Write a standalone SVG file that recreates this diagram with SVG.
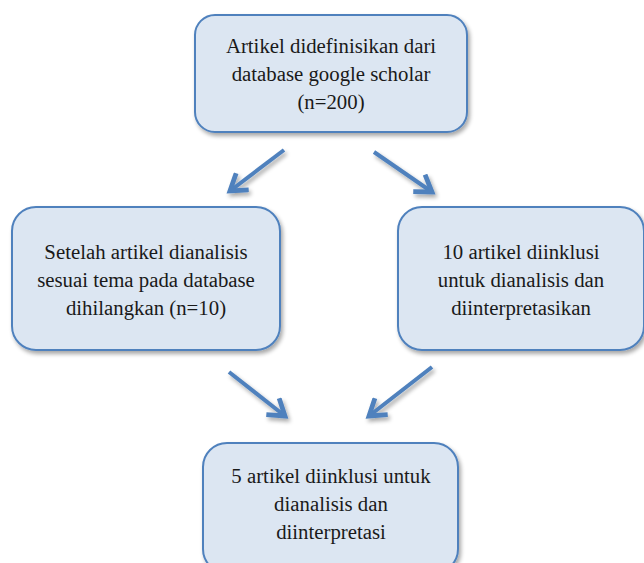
<svg xmlns="http://www.w3.org/2000/svg" width="644" height="563" viewBox="0 0 644 563">
<defs>
<filter id="sh" x="-10%" y="-10%" width="125%" height="130%">
<feGaussianBlur in="SourceAlpha" stdDeviation="2"/>
<feOffset dx="2" dy="3" result="b"/>
<feComponentTransfer><feFuncA type="linear" slope="0.35"/></feComponentTransfer>
<feMerge><feMergeNode/><feMergeNode in="SourceGraphic"/></feMerge>
</filter>
<marker id="ah" markerWidth="6" markerHeight="6" refX="4.5" refY="3" orient="auto" markerUnits="strokeWidth">
<path d="M0.6,0.4 L4.5,3 L0.6,5.6" fill="none" stroke="#4F81BD" stroke-width="1.2" stroke-linejoin="miter"/>
</marker>
</defs>
<style>
.box{fill:#DCE6F2;stroke:#4F81BD;stroke-width:2;}
.t{font-size:20.8px;fill:#1a1a1a;text-anchor:middle;}
.c{stroke:#4F81BD;stroke-width:4;fill:none;marker-end:url(#ah);}
</style>
<rect width="644" height="563" fill="#fff"/>
<g id="connectors" filter="url(#sh)">
<line class="c" x1="284" y1="150" x2="230" y2="191"/>
<line class="c" x1="374" y1="152" x2="432" y2="192"/>
<line class="c" x1="229" y1="372" x2="285" y2="416"/>
<line class="c" x1="432" y1="367" x2="369" y2="416"/>
</g>
<g font-family="'Liberation Serif', 'DejaVu Serif', serif">
<g id="n1">
<rect class="box" x="195" y="15" width="272" height="117" rx="20" filter="url(#sh)"/>
<text class="t" x="331" y="53">Artikel didefinisikan dari</text>
<text class="t" x="331" y="81">database google scholar</text>
<text class="t" x="331" y="109">(n=200)</text>
</g>
<g id="n2">
<rect class="box" x="12" y="207" width="268" height="143" rx="24" filter="url(#sh)"/>
<text class="t" x="146" y="259">Setelah artikel dianalisis</text>
<text class="t" x="146" y="287">sesuai tema pada database</text>
<text class="t" x="146" y="315">dihilangkan (n=10)</text>
</g>
<g id="n3">
<rect class="box" x="398" y="207" width="246" height="143" rx="24" filter="url(#sh)"/>
<text class="t" x="521" y="259">10 artikel diinklusi</text>
<text class="t" x="521" y="287">untuk dianalisis dan</text>
<text class="t" x="521" y="315">diinterpretasikan</text>
</g>
<g id="n4">
<rect class="box" x="203" y="443" width="255" height="130" rx="24" filter="url(#sh)"/>
<text class="t" x="331" y="483">5 artikel diinklusi untuk</text>
<text class="t" x="331" y="511">dianalisis dan</text>
<text class="t" x="331" y="539">diinterpretasi</text>
</g>
</g>
</svg>
